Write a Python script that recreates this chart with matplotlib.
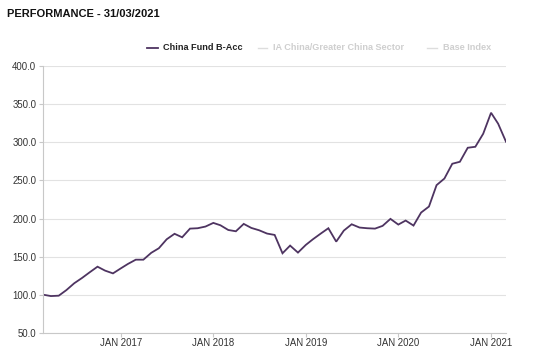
import matplotlib
matplotlib.use("Agg")
import matplotlib.pyplot as plt
from matplotlib.lines import Line2D
import pandas as pd

plt.rcParams['font.family'] = ['Liberation Sans', 'DejaVu Sans']

title = "PERFORMANCE - 31/03/2021"
series_names = ["China Fund B-Acc", "IA China/Greater China Sector", "Base Index"]
dates = pd.date_range("2016-03-31", "2021-03-31", freq="ME")
fund = [100, 98.2, 98.7, 106, 115, 122, 129.4, 136.8, 131.6, 128,
        134.6, 140.4, 146, 146, 155, 161, 172.8, 180, 175.4, 186.8,
        187.3, 189.5, 194.3, 191.2, 185, 183.3, 193, 187.7, 184.6, 180.3,
        178.5, 154.4, 164.5, 155.3, 165.4, 172.8, 180.3, 187.3, 169.7, 184.2,
        192.5, 188.2, 187.3, 186.8, 190.4, 199.6, 192.1, 197.4, 190.8, 207.9,
        215.8, 243.9, 252.6, 272, 274.6, 293, 294.3, 311.4, 339, 324.6,
        300.9]
yticks = [50, 100, 150, 200, 250, 300, 350, 400]
xtick_years = [2017, 2018, 2019, 2020, 2021]

W, H = 550, 354
fig = plt.figure(figsize=(W / 100, H / 100), dpi=100)
ax = fig.add_axes([0.0787, 0.060, 0.8413, 0.7527])

line_color = '#4e3461'
ax.plot(dates, fund, color=line_color, lw=1.3, solid_joinstyle='miter')

ax.set_xlim(dates[0], dates[-1])
ax.set_ylim(50, 400)
ax.set_yticks(yticks)
ax.set_yticklabels([f"{v:.1f}" for v in yticks])
jan_dates = [d for d in dates if d.month == 1 and d.year in xtick_years]
ax.set_xticks(jan_dates)
ax.set_xticklabels([f"JAN {d.year}" for d in jan_dates])

ax.grid(axis='y', color='#e2e2e2', lw=0.8)
ax.set_axisbelow(True)
for s in ['top', 'right']:
    ax.spines[s].set_visible(False)
for s in ['left', 'bottom']:
    ax.spines[s].set_color('#c8c8c8')
    ax.spines[s].set_linewidth(0.8)
ax.tick_params(axis='both', colors='#c8c8c8', length=3, width=0.8, labelsize=6.9, labelcolor='#333333')
ax.tick_params(axis='y', pad=2)
ax.tick_params(axis='x', pad=1)

fig.text(7 / W, 1 - 13.8 / H, title, fontsize=8, fontweight='bold', color='#111111', va='center')

# legend drawn manually in figure pixel positions
leg_y = 1 - 47.5 / H
leg_items = [
    (147, 158, 163, line_color, 1.3, '#222222'),
    (258, 267, 273, '#dddddd', 1.0, '#cfcfcf'),
    (427, 437, 443, '#dddddd', 1.0, '#cfcfcf'),
]
for name, (x0, x1, xt, lc, lw, tc) in zip(series_names, leg_items):
    fig.add_artist(Line2D([x0 / W, x1 / W], [leg_y, leg_y], color=lc, lw=lw,
                          transform=fig.transFigure))
    fig.text(xt / W, leg_y, name, fontsize=6.6, fontweight='bold', color=tc, va='center')

fig.savefig("out.png", dpi=100)
